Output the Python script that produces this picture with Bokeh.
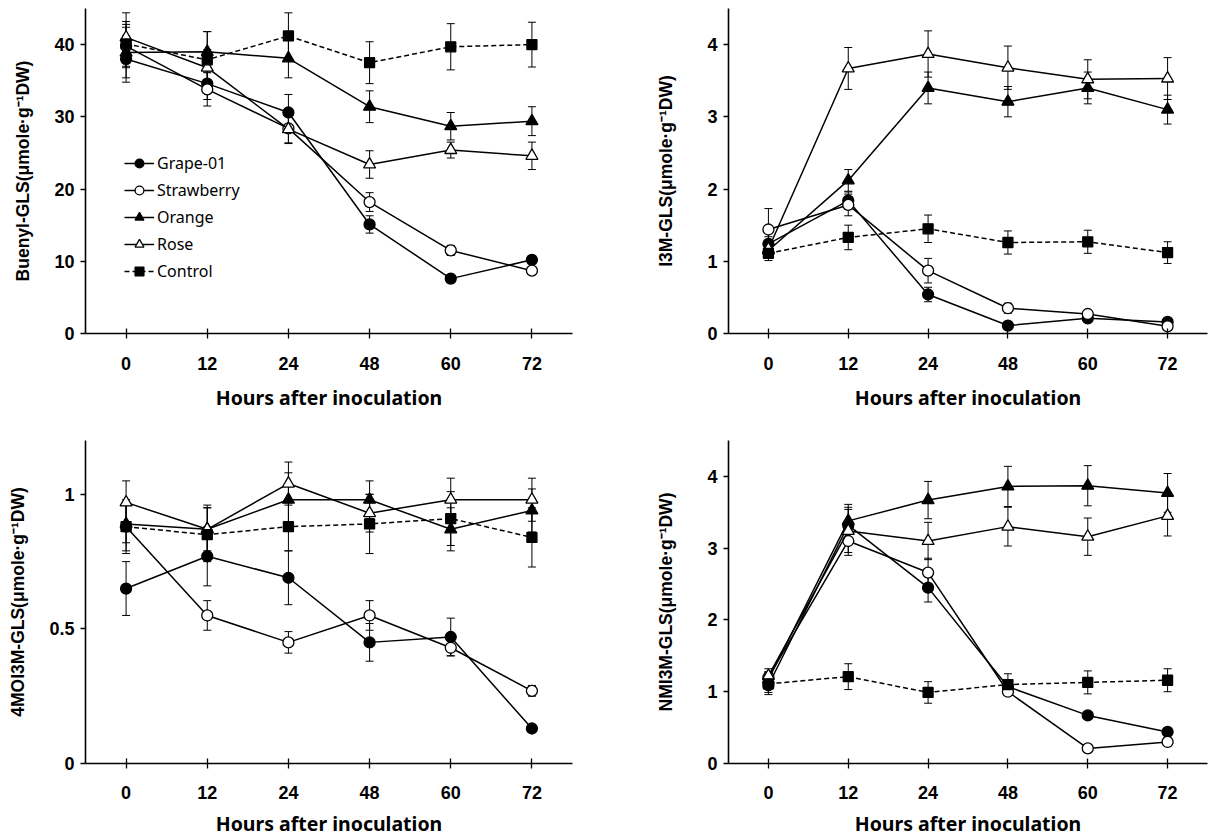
from bokeh.plotting import figure
from bokeh.models import (FactorRange, Range1d, FixedTicker, NumeralTickFormatter,
                          ColumnDataSource, Whisker, TeeHead, Legend, LegendItem)
from bokeh.layouts import column, row
from bokeh.embed import file_html
from bokeh.resources import INLINE

hours = ["0", "12", "24", "48", "60", "72"]
series = ["Grape-01", "Strawberry", "Orange", "Rose", "Control"]

# Buenyl-GLS
buenyl_grape = [38.0, 34.6, 30.6, 15.1, 7.6, 10.2]
buenyl_straw = [39.8, 33.8, 28.4, 18.2, 11.5, 8.7]
buenyl_orange = [38.9, 39.0, 38.1, 31.4, 28.7, 29.4]
buenyl_rose = [41.0, 36.8, 28.3, 23.4, 25.4, 24.6]
buenyl_control = [40.1, 37.9, 41.2, 37.5, 39.7, 40.0]
buenyl_err_grape = [3.2, 2.2, 2.5, 1.2, 0.5, 0.5]
buenyl_err_straw = [3.0, 2.3, 2.0, 1.3, 0.7, 0.4]
buenyl_err_orange = [3.5, 2.8, 2.7, 2.2, 1.9, 2.0]
buenyl_err_rose = [3.4, 2.5, 2.0, 1.9, 1.1, 1.9]
buenyl_err_control = [3.1, 3.9, 3.2, 2.9, 3.2, 3.1]

# I3M-GLS
i3m_grape = [1.24, 1.84, 0.54, 0.11, 0.21, 0.16]
i3m_straw = [1.44, 1.78, 0.87, 0.35, 0.27, 0.10]
i3m_orange = [1.15, 2.12, 3.40, 3.21, 3.40, 3.10]
i3m_rose = [1.17, 3.67, 3.87, 3.68, 3.52, 3.53]
i3m_control = [1.11, 1.33, 1.45, 1.26, 1.27, 1.12]
i3m_err_grape = [0.10, 0.12, 0.10, 0.04, 0.04, 0.04]
i3m_err_straw = [0.29, 0.15, 0.17, 0.07, 0.04, 0.03]
i3m_err_orange = [0.10, 0.15, 0.22, 0.21, 0.22, 0.20]
i3m_err_rose = [0.10, 0.29, 0.32, 0.30, 0.27, 0.29]
i3m_err_control = [0.10, 0.17, 0.19, 0.16, 0.16, 0.15]

# 4MOI3M-GLS
moi_grape = [0.65, 0.77, 0.69, 0.45, 0.47, 0.13]
moi_straw = [0.88, 0.55, 0.45, 0.55, 0.43, 0.27]
moi_orange = [0.89, 0.87, 0.98, 0.98, 0.87, 0.94]
moi_rose = [0.97, 0.87, 1.04, 0.93, 0.98, 0.98]
moi_control = [0.88, 0.85, 0.88, 0.89, 0.91, 0.84]
moi_err_grape = [0.10, 0.11, 0.10, 0.07, 0.07, 0.015]
moi_err_straw = [0.09, 0.055, 0.04, 0.055, 0.03, 0.02]
moi_err_orange = [0.07, 0.08, 0.10, 0.07, 0.08, 0.08]
moi_err_rose = [0.08, 0.09, 0.08, 0.07, 0.08, 0.08]
moi_err_control = [0.10, 0.10, 0.09, 0.11, 0.10, 0.11]

# NMI3M-GLS
nmi_grape = [1.09, 3.32, 2.45, 1.07, 0.67, 0.44]
nmi_straw = [1.20, 3.10, 2.66, 1.00, 0.21, 0.30]
nmi_orange = [1.17, 3.38, 3.67, 3.86, 3.87, 3.77]
nmi_rose = [1.22, 3.24, 3.10, 3.30, 3.16, 3.45]
nmi_control = [1.11, 1.21, 0.99, 1.10, 1.13, 1.16]
nmi_err_grape = [0.10, 0.25, 0.20, 0.05, 0.03, 0.03]
nmi_err_straw = [0.08, 0.20, 0.20, 0.05, 0.02, 0.02]
nmi_err_orange = [0.10, 0.23, 0.26, 0.28, 0.28, 0.27]
nmi_err_rose = [0.10, 0.30, 0.26, 0.27, 0.26, 0.28]
nmi_err_control = [0.15, 0.18, 0.15, 0.15, 0.16, 0.16]

panels = [
    dict(label="Buenyl-GLS(\u03bcmole\u00b7g\u207b\u00b9DW)", ymax=45, ticks=[0, 10, 20, 30, 40],
         vals=[buenyl_grape, buenyl_straw, buenyl_orange, buenyl_rose, buenyl_control],
         errs=[buenyl_err_grape, buenyl_err_straw, buenyl_err_orange, buenyl_err_rose, buenyl_err_control]),
    dict(label="I3M-GLS(\u03bcmole\u00b7g\u207b\u00b9DW)", ymax=4.5, ticks=[0, 1, 2, 3, 4],
         vals=[i3m_grape, i3m_straw, i3m_orange, i3m_rose, i3m_control],
         errs=[i3m_err_grape, i3m_err_straw, i3m_err_orange, i3m_err_rose, i3m_err_control]),
    dict(label="4MOI3M-GLS(\u03bcmole\u00b7g\u207b\u00b9DW)", ymax=1.2, ticks=[0, 0.5, 1],
         vals=[moi_grape, moi_straw, moi_orange, moi_rose, moi_control],
         errs=[moi_err_grape, moi_err_straw, moi_err_orange, moi_err_rose, moi_err_control]),
    dict(label="NMI3M-GLS(\u03bcmole\u00b7g\u207b\u00b9DW)", ymax=4.5, ticks=[0, 1, 2, 3, 4],
         vals=[nmi_grape, nmi_straw, nmi_orange, nmi_rose, nmi_control],
         errs=[nmi_err_grape, nmi_err_straw, nmi_err_orange, nmi_err_rose, nmi_err_control]),
]

styles = [
    dict(marker="circle", size=11, fill="black", dash="solid"),
    dict(marker="circle", size=11, fill="white", dash="solid"),
    dict(marker="triangle", size=12, fill="black", dash="solid"),
    dict(marker="triangle", size=12, fill="white", dash="solid"),
    dict(marker="square", size=10, fill="black", dash="5 3"),
]

geom = [
    dict(width=600, height=420, left=85, right=28, top=8, bottom=87, ylstand=18, tlstand=6, xts=18, xls=11),
    dict(width=608, height=420, left=128, right=1, top=8, bottom=87, ylstand=28, tlstand=6, xts=18, xls=11),
    dict(width=600, height=419, left=85, right=28, top=20, bottom=76, ylstand=18, tlstand=6, xts=17, xls=8),
    dict(width=608, height=419, left=128, right=1, top=20, bottom=76, ylstand=28, tlstand=6, xts=17, xls=8),
]

figs = []
for k, (pn, g) in enumerate(zip(panels, geom)):
    p = figure(width=g["width"], height=g["height"], x_range=FactorRange(factors=hours, range_padding=0),
               y_range=Range1d(0, pn["ymax"]), output_backend="svg", toolbar_location=None,
               min_border_left=g["left"], min_border_right=g["right"],
               min_border_top=g["top"], min_border_bottom=g["bottom"])
    p.outline_line_color = None
    p.xgrid.visible = False
    p.ygrid.visible = False
    p.background_fill_color = "white"

    xa = p.xaxis[0]
    xa.axis_label = "Hours after inoculation"
    xa.axis_label_text_font = "Noto Sans"
    xa.axis_label_text_font_style = "bold"
    xa.axis_label_text_font_size = "19.5px"
    xa.axis_label_text_color = "black"
    xa.axis_label_standoff = g["xls"]
    xa.major_label_text_font = "Liberation Sans"
    xa.major_label_text_font_style = "bold"
    xa.major_label_text_font_size = "18px"
    xa.major_label_text_color = "black"
    xa.major_label_standoff = g["xts"]
    xa.major_tick_in = 5
    xa.major_tick_out = 5
    xa.axis_line_width = 1.6
    xa.major_tick_line_width = 1.3
    xa.axis_line_color = "black"
    xa.major_tick_line_color = "black"

    ya = p.yaxis[0]
    ya.axis_label = pn["label"]
    ya.axis_label_text_font = "Liberation Sans"
    ya.axis_label_text_font_style = "bold"
    ya.axis_label_text_font_size = "17.5px"
    ya.axis_label_text_color = "black"
    ya.axis_label_standoff = g["ylstand"]
    ya.major_label_text_font = "Liberation Sans"
    ya.major_label_text_font_style = "bold"
    ya.major_label_text_font_size = "18px"
    ya.major_label_text_color = "black"
    ya.major_label_standoff = g["tlstand"]
    ya.ticker = FixedTicker(ticks=pn["ticks"])
    ya.formatter = NumeralTickFormatter(format="0.[0]")
    ya.minor_tick_line_color = None
    ya.major_tick_in = 0
    ya.major_tick_out = 5
    ya.axis_line_width = 1.6
    ya.major_tick_line_width = 1.3
    ya.axis_line_color = "black"
    ya.major_tick_line_color = "black"

    srcs = []
    for vals, errs in zip(pn["vals"], pn["errs"]):
        srcs.append(ColumnDataSource(dict(
            x=hours, y=vals,
            upper=[v + e for v, e in zip(vals, errs)],
            lower=[v - e for v, e in zip(vals, errs)])))

    for src in srcs:
        w = Whisker(source=src, base="x", upper="upper", lower="lower", dimension="height",
                    line_color="black", line_width=1,
                    upper_head=TeeHead(size=8, line_width=1, line_color="black"),
                    lower_head=TeeHead(size=8, line_width=1, line_color="black"))
        p.add_layout(w)

    items = []
    for name, src, st in zip(series, srcs, styles):
        ln = p.line("x", "y", source=src, line_color="black", line_width=1.5, line_dash=st["dash"])
        sc = p.scatter("x", "y", source=src, marker=st["marker"], size=st["size"],
                       fill_color=st["fill"], line_color="black", line_width=1.3)
        items.append(LegendItem(label=name, renderers=[ln, sc]))

    if k == 0:
        legend = Legend(items=items, location=(39, 51), border_line_alpha=0,
                        background_fill_alpha=0, padding=0, margin=0, spacing=5,
                        label_height=22, glyph_height=22, glyph_width=30, label_standoff=3,
                        label_text_font="Noto Sans", label_text_font_size="16px",
                        label_text_color="black")
        p.add_layout(legend)
    figs.append(p)

layout = column(row(figs[0], figs[1]), row(figs[2], figs[3]))
open("out.html", "w").write(file_html(layout, INLINE))
